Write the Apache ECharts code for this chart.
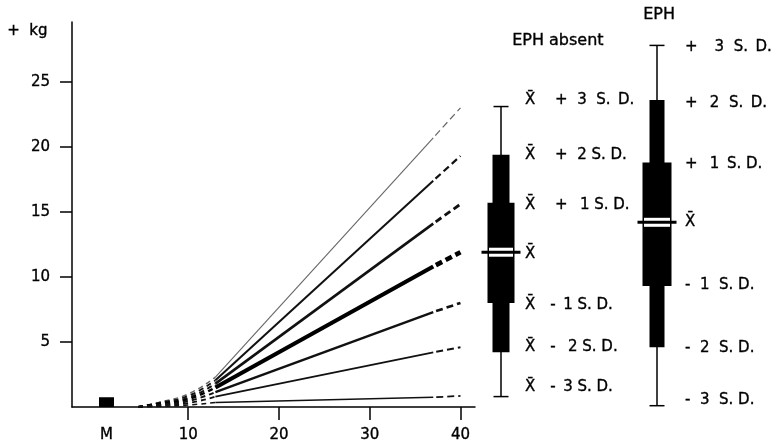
<!DOCTYPE html>
<html><head><meta charset="utf-8">
<script src="https://cdn.jsdelivr.net/npm/echarts@6/dist/echarts.min.js"></script>
<style>html,body{margin:0;padding:0;background:#fff}#c{width:775px;height:445px}</style>
</head><body><div id="c"></div>
<script>
// ---- data (weeks of pregnancy vs weight gain, kg) ----
const weeks  = [4.5, 7, 10, 13, 37, 40];
const plus3  = [0, 0.40, 1.00, 2.30, 20.7, 23.0];
const plus2  = [0, 0.35, 0.85, 2.05, 17.4, 19.3];
const plus1  = [0, 0.30, 0.70, 1.80, 14.1, 15.6];
const meanV  = [0, 0.25, 0.60, 1.50, 10.8, 11.9];
const minus1 = [0, 0.20, 0.45, 1.15, 7.3, 8.0];
const minus2 = [0, 0.12, 0.30, 0.80, 4.2, 4.6];
const minus3 = [0, 0.05, 0.15, 0.35, 0.75, 0.85];
const mWeek = 1, mValue = 0.75;
const xTickValues = [10, 20, 30, 40];
const xLabelValues = [1, 10, 20, 30, 40];
const xLabelText = ['M', '10', '20', '30', '40'];
const yTickValues = [5, 10, 15, 20, 25];
const groups = ['EPH absent', 'EPH'];
// order: -3SD, -2SD, -1SD, mean, +1SD, +2SD, +3SD
const boxAbsent = [0.8, 4.2, 8.0, 11.9, 15.7, 19.4, 23.1];
const boxEph    = [0.1, 4.6, 9.3, 14.2, 18.8, 23.6, 27.8];
const XB = 'X\u0304';
const absentLabels = [
  XB + '\u2003-\u20023 S. D.',
  XB + '\u2003-\u2002 2 S. D.',
  XB + '\u2003-\u20021 S. D.',
  XB,
  XB + '\u2003 +\u2002 1 S. D.',
  XB + '\u2003 +  2 S. D.',
  XB + '\u2003 +  3  S.\u2002D.'
];
const ephLabels = [
  '-  3  S. D.',
  '-  2  S. D.',
  '-  1  S. D.',
  XB,
  '+\u2002 1\u2002S. D.',
  '+\u2002 2  S.\u2002D.',
  '+\u2002  3  S.\u2002D.'
];

// ---- styles ----
const FONT = 'DejaVu Sans';
const TXT = { fill: '#000', fontFamily: FONT, stroke: '#000', lineWidth: 0.35 };
const lineSeriesData = [plus3, plus2, plus1, meanV, minus1, minus2, minus3];
const lineColors = ['#666', '#111', '#111', '#000', '#111', '#111', '#111'];
const lineWidths = [1.1, 2, 2.6, 4.2, 2.4, 1.8, 1.6];
const earlyWidths = [1.4, 1.8, 2, 2.4, 2, 1.8, 1.6];

const series = [];
lineSeriesData.forEach((vals, i) => {
  const pts = weeks.map((w, k) => [w, vals[k]]);
  series.push({ type: 'line', xAxisIndex: 0, yAxisIndex: 0, data: pts.slice(0, 4), smooth: true,
    symbol: 'none', lineStyle: { color: lineColors[i], width: earlyWidths[i], type: [5, 4] } });
  series.push({ type: 'line', xAxisIndex: 0, yAxisIndex: 0, data: pts.slice(3, 5),
    symbol: 'none', lineStyle: { color: lineColors[i], width: lineWidths[i], type: 'solid' } });
  series.push({ type: 'line', xAxisIndex: 0, yAxisIndex: 0, data: pts.slice(4, 6),
    symbol: 'none', lineStyle: { color: lineColors[i], width: lineWidths[i] * 1.1, type: [7, 4], dashOffset: -3 } });
});
series.push({ type: 'bar', xAxisIndex: 0, yAxisIndex: 0, data: [[mWeek, mValue]], barWidth: 15,
  itemStyle: { color: '#000' } });

const labelSets = [absentLabels, ephLabels];
const labelDx = [24, 28];
const labelDy = [[-9, -5, 2, 2, 2, 0, -6], [-6, 1, -1, 0, 2, 3, 2]];
const narrowW = [17, 15], wideW = [27, 29];
series.push({
  type: 'custom', xAxisIndex: 1, yAxisIndex: 1,
  data: [[0].concat(boxAbsent), [1].concat(boxEph)],
  renderItem: function (params, api) {
    const idx = api.value(0);
    const vals = [1, 2, 3, 4, 5, 6, 7].map(i => api.value(i));
    const cx = api.coord([idx, vals[3]])[0];
    const ys = vals.map(v => api.coord([idx, v])[1]);
    const nw = narrowW[idx], ww = wideW[idx];
    const ch = [
      { type: 'line', shape: { x1: cx, y1: ys[0], x2: cx, y2: ys[6] }, style: { stroke: '#000', lineWidth: 1.5 } },
      { type: 'line', shape: { x1: cx - 7.5, y1: ys[0], x2: cx + 7.5, y2: ys[0] }, style: { stroke: '#000', lineWidth: 1.5 } },
      { type: 'line', shape: { x1: cx - 7.5, y1: ys[6], x2: cx + 7.5, y2: ys[6] }, style: { stroke: '#000', lineWidth: 1.5 } },
      { type: 'rect', shape: { x: cx - nw / 2, y: ys[5], width: nw, height: ys[1] - ys[5] }, style: { fill: '#000' } },
      { type: 'rect', shape: { x: cx - ww / 2, y: ys[4], width: ww, height: ys[2] - ys[4] }, style: { fill: '#000' } },
      { type: 'rect', shape: { x: cx - ww / 2 + 1.5, y: ys[3] - 4.5, width: ww - 3, height: 9 }, style: { fill: '#fff' } },
      { type: 'line', shape: { x1: cx - 19.5, y1: ys[3], x2: cx + 19.5, y2: ys[3] }, style: { stroke: '#000', lineWidth: 3 } }
    ];
    labelSets[idx].forEach((t, k) => {
      ch.push({ type: 'text', style: Object.assign({ text: t, x: cx + labelDx[idx], y: ys[k] + labelDy[idx][k],
        fontSize: 15, align: 'left', verticalAlign: 'middle' }, TXT) });
    });
    return { type: 'group', children: ch };
  }
});

const chart = echarts.init(document.getElementById('c'));
chart.setOption({
  animation: false,
  backgroundColor: '#fff',
  textStyle: { fontFamily: FONT },
  grid: [
    { left: 72, right: 300, top: 22, bottom: 38 },
    { left: 423, right: 40, top: 22, bottom: 38 }
  ],
  xAxis: [
    { type: 'value', gridIndex: 0, min: -2.8, max: 41.6,
      axisLine: { show: true, onZero: false, lineStyle: { color: '#000', width: 1.5 } },
      axisTick: { show: true, customValues: xTickValues, length: 13, inside: false, lineStyle: { color: '#000', width: 1.5 } },
      axisLabel: { customValues: xLabelValues, margin: 21, fontSize: 15, color: '#000', fontFamily: FONT,
        textBorderColor: '#000', textBorderWidth: 0.35,
        formatter: v => xLabelText[xLabelValues.indexOf(v)] },
      splitLine: { show: false } },
    { type: 'category', gridIndex: 1, data: groups, show: false, boundaryGap: true }
  ],
  yAxis: [
    { type: 'value', gridIndex: 0, min: 0, max: 29.6,
      axisLine: { show: true, onZero: false, lineStyle: { color: '#000', width: 1.5 } },
      axisTick: { show: true, customValues: yTickValues, length: 12, lineStyle: { color: '#000', width: 1.5 } },
      axisLabel: { customValues: yTickValues, margin: 22, fontSize: 15, color: '#000', fontFamily: FONT,
        textBorderColor: '#000', textBorderWidth: 0.35 },
      splitLine: { show: false } },
    { type: 'value', gridIndex: 1, min: 0, max: 29.6, show: false }
  ],
  graphic: [
    { type: 'text', left: 7, top: 23, style: Object.assign({ text: '+  kg', fontSize: 15 }, TXT) },
    { type: 'text', left: 512, top: 33, style: Object.assign({ text: groups[0], fontSize: 16 }, TXT) },
    { type: 'text', left: 643, top: 7, style: Object.assign({ text: groups[1], fontSize: 16 }, TXT) }
  ],
  series: series
});
</script></body></html>
